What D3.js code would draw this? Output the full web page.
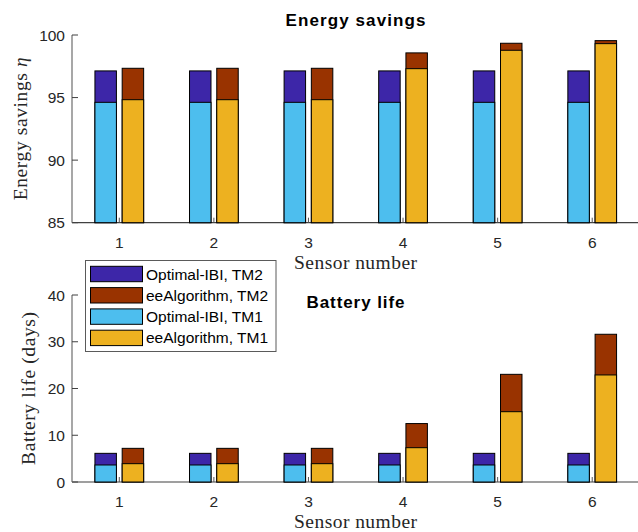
<!DOCTYPE html>
<html>
<head>
<meta charset="utf-8">
<script src="https://cdn.jsdelivr.net/npm/d3@7/dist/d3.min.js"></script>
<style>
  html, body { margin: 0; padding: 0; background: #fff; }
  svg { display: block; }
</style>
</head>
<body>
<svg id="chart" width="638" height="532"></svg>
<script>
// Sensor indices
const sensors = [1, 2, 3, 4, 5, 6];

// Energy savings (percent)
const energyOptTM1 = [94.62, 94.62, 94.62, 94.62, 94.62, 94.62];
const energyOptTM2 = [97.13, 97.13, 97.13, 97.13, 97.13, 97.13];
const energyEeTM1  = [94.83, 94.83, 94.83, 97.31, 98.78, 99.31];
const energyEeTM2  = [97.34, 97.34, 97.34, 98.57, 99.34, 99.55];

// Battery life (days)
const lifeOptTM1 = [3.64, 3.64, 3.64, 3.64, 3.64, 3.64];
const lifeOptTM2 = [6.13, 6.13, 6.13, 6.13, 6.13, 6.13];
const lifeEeTM1  = [3.92, 3.92, 3.92, 7.34, 15.04, 22.9];
const lifeEeTM2  = [7.2, 7.2, 7.2, 12.5, 23.03, 31.6];

// Tick labels
const energyTicks = [85, 90, 95, 100];
const lifeTicks = [0, 10, 20, 30, 40];

// Legend entries
const legendLabels = ["Optimal-IBI, TM2", "eeAlgorithm, TM2", "Optimal-IBI, TM1", "eeAlgorithm, TM1"];
const legendColors = ["#3d26a8", "#993300", "#4dbeee", "#edb120"];

const C = { optTM2: "#3d26a8", eeTM2: "#993300", optTM1: "#4dbeee", eeTM1: "#edb120" };

const svg = d3.select("#chart");
const sans = "'Liberation Sans', Arial, Helvetica, sans-serif";
const serif = "'Liberation Serif', 'Times New Roman', serif";

const x = d3.scaleLinear().domain([0.5, 6.5]).range([72, 639.5]);
const barW = 0.227;
const offset = 0.144;

function panel(opts) {
  const y = d3.scaleLinear().domain(opts.domain).range(opts.range);
  const g = svg.append("g");
  const base = opts.domain[0];

  // x axis baseline
  g.append("line")
    .attr("x1", x.range()[0]).attr("x2", x.range()[1])
    .attr("y1", y(base)).attr("y2", y(base))
    .attr("stroke", "#404040").attr("stroke-width", 1.2);

  // bars: TM2 drawn full height, TM1 drawn over it
  const groups = [
    { tm2: opts.optTM2, tm1: opts.optTM1, c2: C.optTM2, c1: C.optTM1, dx: -offset },
    { tm2: opts.eeTM2, tm1: opts.eeTM1, c2: C.eeTM2, c1: C.eeTM1, dx: offset }
  ];
  groups.forEach(gr => {
    g.selectAll(null).data(sensors).enter().append("rect")
      .attr("x", (d) => x(d + gr.dx - barW / 2))
      .attr("width", x(barW) - x(0))
      .attr("y", (d, i) => y(gr.tm2[i]))
      .attr("height", (d, i) => y(base) - y(gr.tm2[i]))
      .attr("fill", gr.c2).attr("stroke", "#000").attr("stroke-width", 1);
    g.selectAll(null).data(sensors).enter().append("rect")
      .attr("x", (d) => x(d + gr.dx - barW / 2))
      .attr("width", x(barW) - x(0))
      .attr("y", (d, i) => y(gr.tm1[i]))
      .attr("height", (d, i) => y(base) - y(gr.tm1[i]))
      .attr("fill", gr.c1).attr("stroke", "#000").attr("stroke-width", 1);
  });

  // small inward x ticks
  g.selectAll(null).data(sensors).enter().append("line")
    .attr("x1", d => x(d)).attr("x2", d => x(d))
    .attr("y1", y(base)).attr("y2", y(base) - 5)
    .attr("stroke", "#555").attr("stroke-width", 1);

  // x tick labels
  g.selectAll(null).data(sensors).enter().append("text")
    .attr("x", d => x(d)).attr("y", opts.xTickY)
    .attr("text-anchor", "middle")
    .attr("font-family", sans).attr("font-size", 15.5).attr("fill", "#262626")
    .text(d => d);

  // y axis line
  g.append("line")
    .attr("x1", 72).attr("x2", 72)
    .attr("y1", y(opts.domain[0])).attr("y2", y(opts.domain[1]))
    .attr("stroke", "#8a8a8a").attr("stroke-width", 1.5);

  // y ticks (inward) and labels
  g.selectAll(null).data(opts.ticks).enter().append("line")
    .attr("x1", 72).attr("x2", 78)
    .attr("y1", d => y(d)).attr("y2", d => y(d))
    .attr("stroke", "#404040").attr("stroke-width", 1);
  g.selectAll(null).data(opts.ticks).enter().append("text")
    .attr("x", 65).attr("y", d => y(d)).attr("dy", "0.36em")
    .attr("text-anchor", "end")
    .attr("font-family", sans).attr("font-size", 15.5).attr("fill", "#262626")
    .text(d => d);

  // title
  g.append("text")
    .attr("x", 355.5).attr("y", opts.titleY)
    .attr("text-anchor", "middle")
    .attr("font-family", sans).attr("font-size", 17).attr("font-weight", "bold")
    .attr("textLength", opts.titleLen).attr("lengthAdjust", "spacing")
    .attr("fill", "#000")
    .text(opts.title);

  // x label
  g.append("text")
    .attr("x", 355.5).attr("y", opts.xLabelY)
    .attr("text-anchor", "middle")
    .attr("font-family", serif).attr("font-size", 19.5).attr("fill", "#262626")
    .attr("textLength", 123).attr("lengthAdjust", "spacing")
    .text("Sensor number");

  // y label
  const cy = (y(opts.domain[0]) + y(opts.domain[1])) / 2;
  const yl = g.append("text")
    .attr("transform", `translate(${opts.yLabelX},${cy}) rotate(-90)`)
    .attr("text-anchor", "middle")
    .attr("font-family", serif).attr("font-size", 19.5).attr("fill", "#262626")
    .attr("textLength", opts.yLabelLen).attr("lengthAdjust", "spacing");
  yl.append("tspan").text(opts.yLabel);
  if (opts.yLabelMath) {
    yl.append("tspan").attr("font-style", "italic").text(opts.yLabelMath);
  }
  return y;
}

panel({
  domain: [85, 100], range: [222.7, 35], ticks: energyTicks,
  optTM1: energyOptTM1, optTM2: energyOptTM2, eeTM1: energyEeTM1, eeTM2: energyEeTM2,
  xTickY: 248, xLabelY: 269, titleY: 26, title: "Energy savings", titleLen: 140,
  yLabel: "Energy savings ", yLabelMath: "η", yLabelX: 27, yLabelLen: 143
});

panel({
  domain: [0, 40], range: [482, 295], ticks: lifeTicks,
  optTM1: lifeOptTM1, optTM2: lifeOptTM2, eeTM1: lifeEeTM1, eeTM2: lifeEeTM2,
  xTickY: 507, xLabelY: 528, titleY: 308, title: "Battery life", titleLen: 98,
  yLabel: "Battery life (days)", yLabelX: 35, yLabelLen: 153
});

// legend
const lg = svg.append("g");
lg.append("rect")
  .attr("x", 85.5).attr("y", 260.5).attr("width", 190.5).attr("height", 91)
  .attr("fill", "#fff").attr("stroke", "#5a5a5a").attr("stroke-width", 1);
legendLabels.forEach((lab, i) => {
  const cy = 274 + i * 21.3;
  lg.append("rect")
    .attr("x", 90.5).attr("y", cy - 7.7).attr("width", 52).attr("height", 15.4)
    .attr("fill", legendColors[i]).attr("stroke", "#000").attr("stroke-width", 1);
  lg.append("text")
    .attr("x", 146).attr("y", cy).attr("dy", "0.36em")
    .attr("font-family", sans).attr("font-size", 15.5).attr("fill", "#000")
    .text(lab);
});
</script>
</body>
</html>
